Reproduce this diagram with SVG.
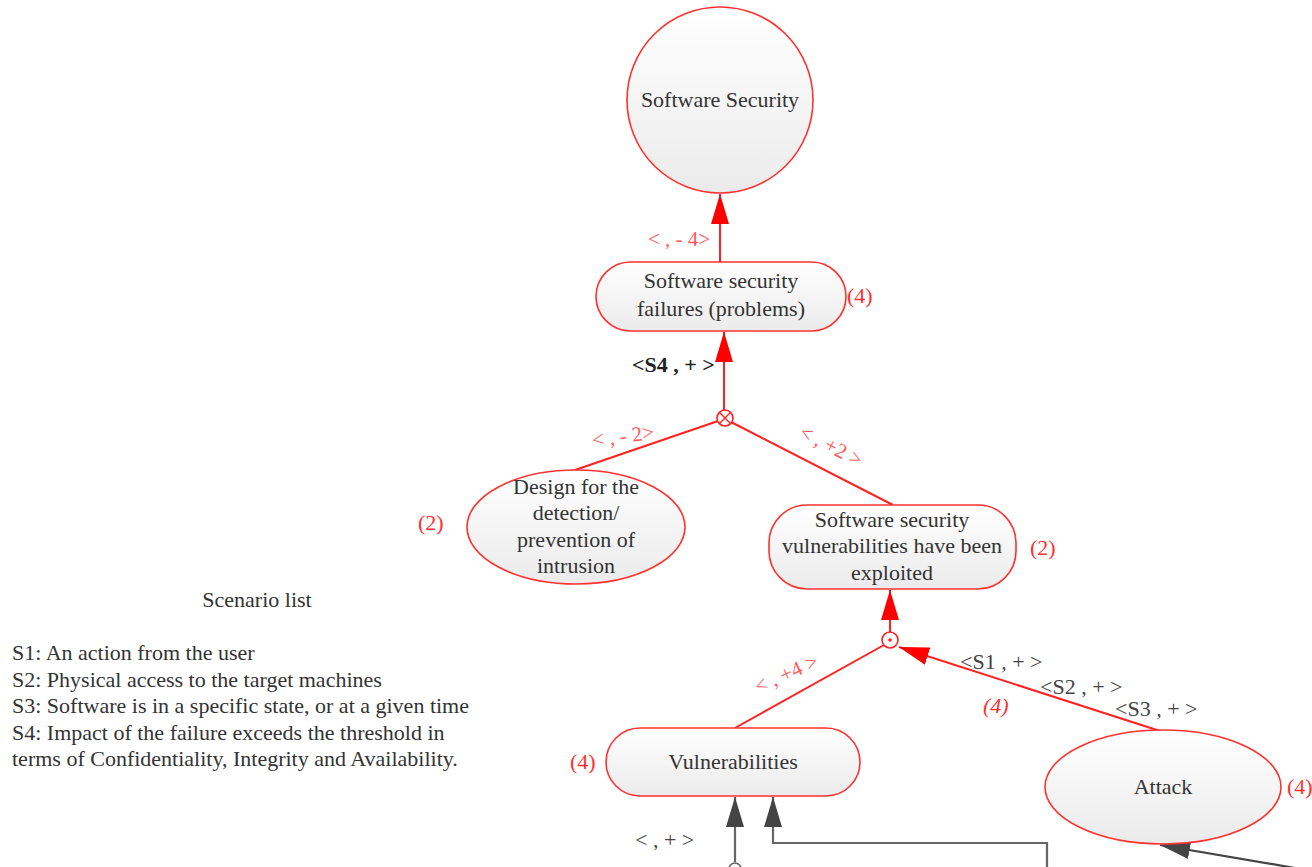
<svg xmlns="http://www.w3.org/2000/svg" width="1312" height="867" viewBox="0 0 1312 867">
<style>
  .node { stroke: #ff3030; stroke-width: 1.6; fill: url(#g); }
  .t { font-family: "Liberation Serif", "Times New Roman", serif; font-size: 22px; fill: #333; text-anchor: middle; }
  .lbl { font-family: "Liberation Serif", "Times New Roman", serif; font-size: 21px; fill: #ff5a5a; }
  .num { font-family: "Liberation Serif", "Times New Roman", serif; font-size: 22px; fill: #ff3030; }
  .glbl { font-family: "Liberation Serif", "Times New Roman", serif; font-size: 22px; fill: #444; }
  .sc { font-family: "Liberation Serif", "Times New Roman", serif; font-size: 22px; fill: #333; }
  .red { stroke: #ff2020; stroke-width: 2; fill: none; }
  .gray { stroke: #666; stroke-width: 2.2; fill: none; }
</style>
<defs>
  <linearGradient id="g" x1="0" y1="0" x2="0" y2="1">
    <stop offset="0" stop-color="#ffffff"/>
    <stop offset="1" stop-color="#ebebeb"/>
  </linearGradient>
  <marker id="ar" markerUnits="userSpaceOnUse" markerWidth="30" markerHeight="18" refX="30" refY="9" orient="auto">
    <path d="M0,0 L30,9 L0,18 z" fill="#ff0000"/>
  </marker>
  <marker id="ag" markerUnits="userSpaceOnUse" markerWidth="30" markerHeight="18" refX="30" refY="9" orient="auto">
    <path d="M0,0 L30,9 L0,18 z" fill="#444"/>
  </marker>
</defs>

<g id="connectors">
  <line class="red" x1="720" y1="262" x2="720" y2="194" marker-end="url(#ar)"/>
  <line class="red" x1="724" y1="410" x2="724" y2="332" marker-end="url(#ar)"/>
  <line class="red" x1="718" y1="421" x2="575" y2="470"/>
  <line class="red" x1="731" y1="422" x2="893" y2="505"/>
  <line class="red" x1="890" y1="632" x2="890" y2="590" marker-end="url(#ar)"/>
  <line class="red" x1="884" y1="645" x2="735" y2="728"/>
  <line class="red" x1="1160" y1="731" x2="899" y2="647" marker-end="url(#ar)"/>
  <circle cx="725" cy="418" r="8" fill="#fff" stroke="#ff2020" stroke-width="1.6"/>
  <path d="M719.3,412.3 L730.7,423.7 M730.7,412.3 L719.3,423.7" stroke="#ff2020" stroke-width="1.4"/>
  <circle cx="890" cy="640" r="8" fill="#fff" stroke="#ff2020" stroke-width="1.6"/>
  <circle cx="890" cy="640" r="1.8" fill="#ff2020"/>
  <line class="gray" x1="735" y1="862" x2="735" y2="797" marker-end="url(#ag)"/>
  <circle cx="735" cy="869" r="6" fill="#fff" stroke="#666" stroke-width="1.6"/>
  <polyline class="gray" points="1047,867 1047,843 773,843 773,797" marker-end="url(#ag)"/>
  <line class="gray" x1="1295" y1="868" x2="1160" y2="845" marker-end="url(#ag)" style="stroke:#444"/>
</g>

<g id="labels">
  <text class="lbl" x="679" y="246" text-anchor="middle">&lt; , - 4&gt;</text>
  <text x="632" y="372" style="font-family:'Liberation Serif',serif;font-size:22px;font-weight:bold;fill:#222">&lt;S4 , + &gt;</text>
  <text class="lbl" text-anchor="middle" transform="translate(624,443) rotate(-8)">&lt; , - 2&gt;</text>
  <text class="lbl" text-anchor="middle" transform="translate(828,452) rotate(27)">&lt; , +2 &gt;</text>
  <text class="lbl" text-anchor="middle" transform="translate(789,680) rotate(-24)">&lt; , +4 &gt;</text>
  <text class="glbl" x="960" y="669">&lt;S1 , + &gt;</text>
  <text class="glbl" x="1040" y="694">&lt;S2 , + &gt;</text>
  <text class="glbl" x="1115" y="716">&lt;S3 , + &gt;</text>
  <text class="num" x="983" y="713" font-style="italic">(4)</text>
  <text class="glbl" x="635" y="847">&lt; , + &gt;</text>
</g>

<g id="n-software-security">
  <circle class="node" cx="720" cy="100" r="93"/>
  <text class="t" x="720" y="107">Software Security</text>
</g>

<g id="n-failures">
  <rect class="node" x="596" y="262" width="250" height="69" rx="34.5"/>
  <text class="t" x="721" y="288">Software security</text>
  <text class="t" x="721" y="316">failures (problems)</text>
  <text class="num" x="847" y="303">(4)</text>
</g>

<g id="n-design">
  <ellipse class="node" cx="576" cy="527" rx="109" ry="57"/>
  <text class="t" x="576" y="494">Design for the</text>
  <text class="t" x="576" y="520">detection/</text>
  <text class="t" x="576" y="547">prevention of</text>
  <text class="t" x="576" y="573">intrusion</text>
  <text class="num" x="418" y="530">(2)</text>
</g>

<g id="n-exploited">
  <rect class="node" x="769" y="505" width="247" height="84" rx="38"/>
  <text class="t" x="892" y="527">Software security</text>
  <text class="t" x="892" y="553">vulnerabilities have been</text>
  <text class="t" x="892" y="580">exploited</text>
  <text class="num" x="1030" y="555">(2)</text>
</g>

<g id="n-vulnerabilities">
  <rect class="node" x="606" y="728" width="254" height="68" rx="34"/>
  <text class="t" x="733" y="769">Vulnerabilities</text>
  <text class="num" x="570" y="769">(4)</text>
</g>

<g id="n-attack">
  <ellipse class="node" cx="1163" cy="787" rx="118" ry="57"/>
  <text class="t" x="1163" y="794">Attack</text>
  <text class="num" x="1287" y="794">(4)</text>
</g>

<g id="scenario-list">
  <text class="sc" x="257" y="607" text-anchor="middle">Scenario list</text>
  <text class="sc" x="12" y="660">S1: An action from the user</text>
  <text class="sc" x="12" y="687">S2: Physical access to the target machines</text>
  <text class="sc" x="12" y="713">S3: Software is in a specific state, or at a given time</text>
  <text class="sc" x="12" y="740">S4: Impact of the failure exceeds the threshold in</text>
  <text class="sc" x="12" y="766">terms of Confidentiality, Integrity and Availability.</text>
</g>
</svg>
